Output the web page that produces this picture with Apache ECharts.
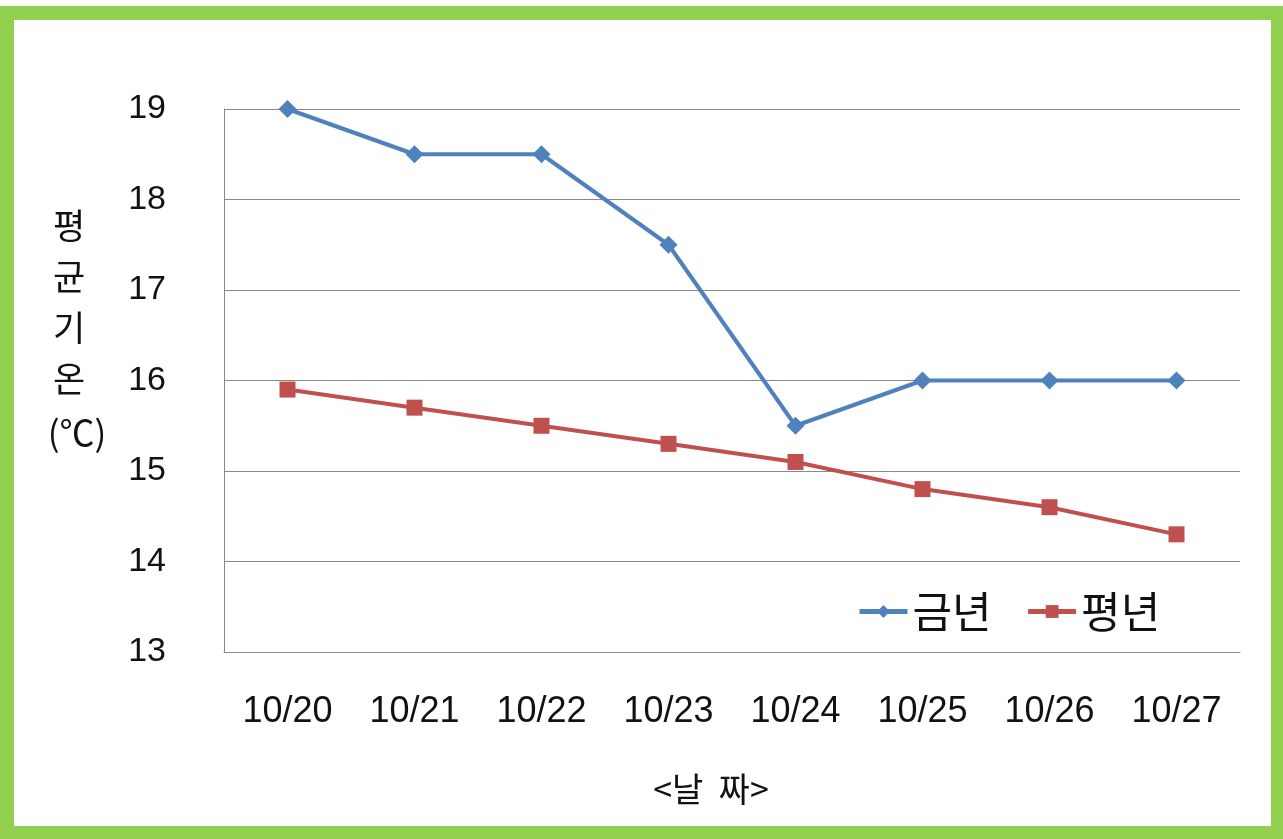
<!DOCTYPE html>
<html><head><meta charset="utf-8">
<script src="https://cdn.jsdelivr.net/npm/echarts@6/dist/echarts.min.js"></script>
<style>html,body{margin:0;padding:0;background:#fff}#c{width:1283px;height:839px}</style>
</head><body><div id="c"></div>
<script>
const categories = ['10/20','10/21','10/22','10/23','10/24','10/25','10/26','10/27'];
const thisYear = [19, 18.5, 18.5, 17.5, 15.5, 16, 16, 16];
const normalYear = [15.9, 15.7, 15.5, 15.3, 15.1, 14.8, 14.6, 14.3];
const seriesNames = ['금년', '평년'];
const FONT = '"Liberation Sans", "Noto Sans CJK KR", sans-serif';
const chart = echarts.init(document.getElementById('c'));
chart.setOption({
  backgroundColor: '#fff',
  animation: false,
  graphic: [
    {type:'rect', z:-10, shape:{x:0,y:6,width:1283,height:833}, style:{fill:'#92D050'}},
    {type:'rect', z:-9, shape:{x:14,y:20,width:1257,height:806}, style:{fill:'#fff'}},
    {type:'text', x:69, y:200, style:{text:'평\n균\n기\n온', font:'35px "Noto Sans CJK KR"', fill:'#111', align:'center', verticalAlign:'top', lineHeight:51}},
    {type:'text', x:77, y:410, style:{text:'(℃)', font:'35px "Noto Sans CJK KR"', fill:'#111', align:'center', verticalAlign:'top', lineHeight:46}}
  ],
  grid: {left:224, right:43, top:109, bottom:187},
  legend: {
    data: seriesNames, left:852, top:585, itemWidth:48, itemHeight:16, itemGap:34,
    lineStyle:{width:5},
    textStyle:{fontSize:43, color:'#111', fontFamily:'"Noto Sans CJK KR"'}
  },
  xAxis: {
    type:'category', data:categories, boundaryGap:true,
    axisLine:{lineStyle:{color:'#888', width:1}}, axisTick:{show:false},
    axisLabel:{fontSize:36, color:'#111', fontFamily:FONT, margin:42},
    name:'<날  짜>', nameLocation:'middle', nameGap:120,
    nameTextStyle:{fontSize:34, color:'#111', fontFamily:'"Noto Sans CJK KR"', padding:[0,42,0,0]}
  },
  yAxis: {
    type:'value', min:13, max:19, interval:1,
    axisLine:{show:true, lineStyle:{color:'#888', width:1}}, axisTick:{show:false},
    splitLine:{lineStyle:{color:'#888', width:1}},
    axisLabel:{fontSize:34, color:'#111', fontFamily:FONT, margin:58}
  },
  series: [
    {name:seriesNames[0], type:'line', data:thisYear, symbol:'diamond', symbolSize:18,
     lineStyle:{color:'#4F81BD', width:4}, itemStyle:{color:'#4F81BD'}},
    {name:seriesNames[1], type:'line', data:normalYear, symbol:'rect', symbolSize:16,
     lineStyle:{color:'#C0504D', width:4}, itemStyle:{color:'#C0504D'}}
  ]
});
</script></body></html>
